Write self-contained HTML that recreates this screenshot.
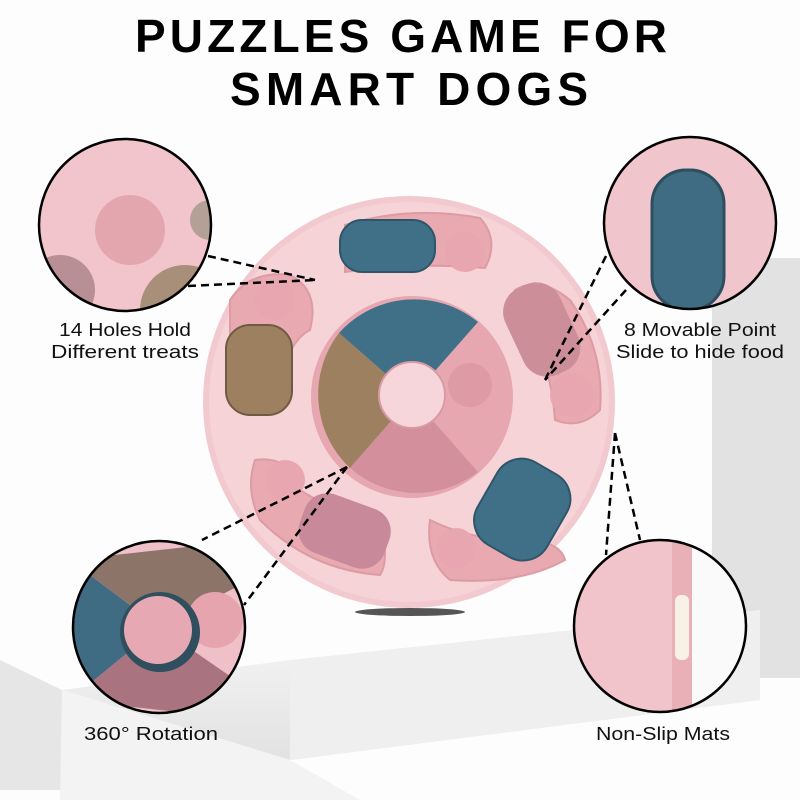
<!DOCTYPE html>
<html><head><meta charset="utf-8"><style>html,body{margin:0;padding:0;background:#fff}svg{display:block}</style></head>
<body>
<svg width="800" height="800" viewBox="0 0 800 800" xmlns="http://www.w3.org/2000/svg" font-family="Liberation Sans, sans-serif">
<defs>
<clipPath id="c1"><circle cx="125" cy="225" r="86"/></clipPath>
<clipPath id="c2"><circle cx="690" cy="223" r="86"/></clipPath>
<clipPath id="c3"><circle cx="159" cy="627" r="86"/></clipPath>
<clipPath id="c4"><circle cx="660" cy="626" r="86"/></clipPath>
<linearGradient id="fl" x1="0" y1="0" x2="0" y2="1"><stop offset="0" stop-color="#f6f6f6"/><stop offset="1" stop-color="#e2e2e2"/></linearGradient>
</defs>
<rect width="800" height="800" fill="#fdfdfd"/>
<rect x="712" y="258" width="88" height="420" fill="#e2e2e2"/>
<polygon points="0,660 62,690 62,790 0,790" fill="#e6e6e6"/>
<polygon points="62,690 290,760 760,700 760,620 290,660" fill="url(#fl)"/>
<polygon points="290,660 760,610 760,700 290,760" fill="#efefef"/>
<polygon points="62,690 290,760 360,800 60,800" fill="#f3f3f3"/>
<text x="135" y="52" font-size="46" font-weight="bold" textLength="532" lengthAdjust="spacing">PUZZLES GAME FOR</text>
<text x="230" y="105" font-size="46" font-weight="bold" textLength="358" lengthAdjust="spacing">SMART DOGS</text>
<ellipse cx="410" cy="612" rx="55" ry="4" fill="#555"/>
<circle cx="409" cy="402" r="206" fill="#f2c9cf"/>
<circle cx="409" cy="402" r="200" fill="#f6d3d7"/>
<g fill="#e9a9b1" stroke="#dd9ba4" stroke-width="2">
<path d="M345,225 Q410,205 480,218 Q500,240 485,268 Q410,262 345,272 Z"/>
<path d="M515,290 Q540,275 570,300 Q605,350 600,410 Q580,430 555,420 Q550,350 515,310 Z"/>
<path d="M430,520 Q470,540 520,540 Q560,540 565,560 Q520,585 450,580 Q425,560 430,520 Z"/>
<path d="M255,460 Q290,455 300,490 Q330,510 380,520 Q390,560 380,575 Q310,570 260,520 Q245,490 255,460 Z"/>
<path d="M230,300 Q250,270 290,275 Q320,290 310,330 Q290,340 280,380 Q245,380 230,340 Z"/>
</g>
<g fill="#e8a7b0"><circle cx="465" cy="252" r="20"/><circle cx="572" cy="395" r="22"/><circle cx="456" cy="548" r="20"/><circle cx="285" cy="480" r="20"/><circle cx="275" cy="300" r="20"/></g>
<rect x="340" y="220" width="95" height="52" rx="22" fill="#3f7088" stroke="#2f5668" stroke-width="2"/>
<rect x="226" y="325" width="66" height="90" rx="24" fill="#9c8060" stroke="#6f5a42" stroke-width="2"/>
<rect x="512" y="282" width="60" height="95" rx="26" fill="#cc8e99" transform="rotate(-25 542 330)"/>
<rect x="482" y="462" width="80" height="95" rx="28" fill="#3f7088" stroke="#2f5668" stroke-width="2" transform="rotate(30 522 510)"/>
<rect x="300" y="500" width="90" height="62" rx="24" fill="#c8899a" transform="rotate(20 345 530)"/>
<circle cx="412" cy="397" r="101" fill="#e6a7b1"/>
<path d="M412,397 L339,333 A101,101 0 0,1 478,322 Z" fill="#3f7088"/>
<path d="M412,397 L339,333 A101,101 0 0,0 350,468 Z" fill="#9c8060"/>
<path d="M412,397 L350,468 A101,101 0 0,0 478,472 Z" fill="#d38f9c"/>
<circle cx="470" cy="385" r="22" fill="#de9aa5"/>
<circle cx="412" cy="395" r="33" fill="#f6d6da" stroke="#d89aa3" stroke-width="2"/>
<g clip-path="url(#c1)"><rect x="30" y="130" width="200" height="200" fill="#f1c5cb"/><circle cx="130" cy="230" r="35" fill="#e3a6ae"/><circle cx="60" cy="290" r="35" fill="#b98f96"/><circle cx="185" cy="310" r="45" fill="#a88f7a"/><circle cx="210" cy="220" r="20" fill="#b3a096"/></g>
<circle cx="125" cy="225" r="86" fill="none" stroke="#000" stroke-width="2.5"/>
<g clip-path="url(#c2)"><rect x="600" y="130" width="200" height="200" fill="#f0c5cb"/><rect x="652" y="170" width="72" height="140" rx="34" fill="#3f6c82" stroke="#2c4f60" stroke-width="3"/></g>
<circle cx="690" cy="223" r="86" fill="none" stroke="#000" stroke-width="2.5"/>
<g clip-path="url(#c3)"><rect x="70" y="540" width="180" height="180" fill="#f0c0c8"/><path d="M159,627 L70,560 L70,700 Z" fill="#3f6c82"/><path d="M159,627 L70,560 L250,540 L250,580 Z" fill="#8d7468"/><path d="M159,627 L70,700 L250,720 L250,690 Z" fill="#a97480"/><circle cx="215" cy="620" r="28" fill="#e6a5ae"/><circle cx="160" cy="632" r="40" fill="#2f4f5e"/><circle cx="158" cy="630" r="34" fill="#e6a8b3"/></g>
<circle cx="159" cy="627" r="86" fill="none" stroke="#000" stroke-width="2.5"/>
<g clip-path="url(#c4)"><rect x="570" y="535" width="180" height="185" fill="#f1c3ca"/><rect x="690" y="535" width="60" height="185" fill="#fafafa"/><rect x="672" y="535" width="20" height="185" fill="#eab0b8"/><rect x="675" y="595" width="14" height="65" rx="6" fill="#f7f1e6"/></g>
<circle cx="660" cy="626" r="86" fill="none" stroke="#000" stroke-width="2.5"/>
<g stroke="#000" stroke-width="2.5" stroke-dasharray="8,5" fill="none">
<line x1="208" y1="256" x2="315" y2="280"/><line x1="188" y1="286" x2="315" y2="280"/>
<line x1="606" y1="256" x2="545" y2="380"/><line x1="626" y1="290" x2="545" y2="380"/>
<line x1="347" y1="467" x2="202" y2="540"/><line x1="347" y1="467" x2="244" y2="605"/>
<line x1="615" y1="433" x2="606" y2="555"/><line x1="615" y1="433" x2="640" y2="540"/>
</g>
<g font-size="18" fill="#111">
<text x="125" y="336" text-anchor="middle" textLength="132" lengthAdjust="spacingAndGlyphs">14 Holes Hold</text>
<text x="125" y="358" text-anchor="middle" textLength="148" lengthAdjust="spacingAndGlyphs">Different treats</text>
<text x="700" y="336" text-anchor="middle" textLength="152" lengthAdjust="spacingAndGlyphs">8 Movable Point</text>
<text x="700" y="358" text-anchor="middle" textLength="168" lengthAdjust="spacingAndGlyphs">Slide to hide food</text>
<text x="151" y="740" text-anchor="middle" textLength="134" lengthAdjust="spacingAndGlyphs">360° Rotation</text>
<text x="663" y="740" text-anchor="middle" textLength="134" lengthAdjust="spacingAndGlyphs">Non-Slip Mats</text>
</g>
</svg>
</body></html>
